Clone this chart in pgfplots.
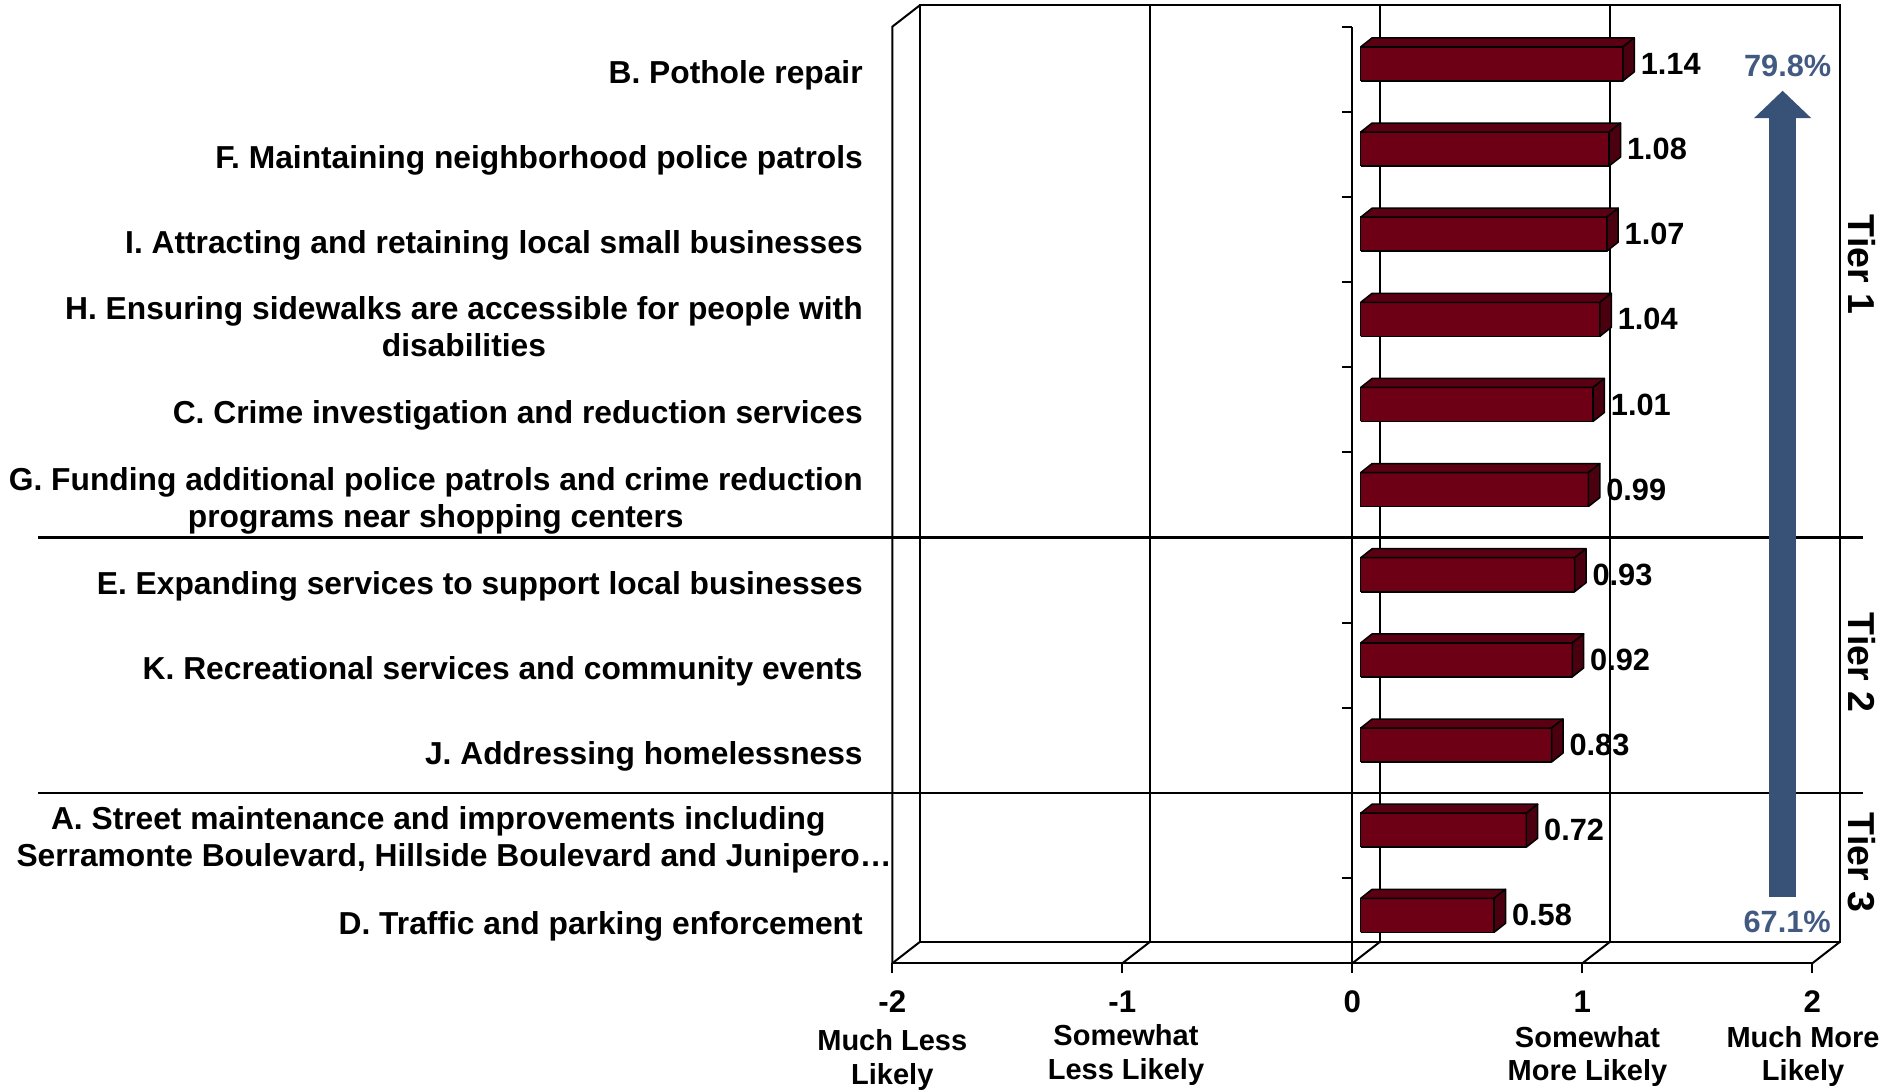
\documentclass[border=0pt]{standalone}
\usepackage{pgfplots}
\pgfplotsset{compat=1.18}
\usepackage{fontspec}
\setmainfont{Liberation Sans}
\usetikzlibrary{arrows.meta}
\definecolor{barfront}{RGB}{110,0,22}
\definecolor{bartop}{RGB}{90,0,18}
\definecolor{barside}{RGB}{74,0,14}
\definecolor{arrowblue}{RGB}{56,81,118}
\definecolor{pctblue}{RGB}{66,90,130}
\tikzset{
  catlabel/.style={font=\fontsize{12.7}{14.7}\selectfont\bfseries, align=center, anchor=east, inner sep=0pt},
  vallabel/.style={font=\fontsize{12.3}{14}\selectfont\bfseries, anchor=west, inner sep=0pt},
  desclabel/.style={font=\fontsize{11.6}{13}\selectfont\bfseries, anchor=base, inner sep=0pt},
  frame/.style={line width=0.8pt, black},
}
\begin{document}
\begin{tikzpicture}
\begin{axis}[
  scale only axis, width=368pt, height=374.64pt,
  xmin=-2, xmax=2, ymin=0.5, ymax=11.5,
  clip=false,
  axis x line=bottom, axis y line=none,
  x axis line style={-, line width=0.8pt},
  xtick={-2,-1,0,1,2},
  xticklabels={-2,-1,0,1,2},
  tick align=outside, major tick length=4pt,
  x tick style={line width=0.8pt, black},
  ytick=\empty,
  xticklabel style={font=\fontsize{12.5}{14}\selectfont\bfseries, anchor=base, yshift=-15.6pt, inner sep=0pt},
]
\coordinate (bl) at (axis cs:-2,0.5);
\coordinate (tr) at (axis cs:2,11.5);
% back plane
\draw[frame] ([shift={(11.08pt,8.6pt)}]axis cs:-2,0.5) rectangle ([shift={(11.08pt,8.6pt)}]axis cs:2,11.5);
\pgfplotsinvokeforeach{-1,0,1}{
  \draw[line width=0.7pt] ([shift={(11.08pt,8.6pt)}]axis cs:#1,0.5) -- ([shift={(11.08pt,8.6pt)}]axis cs:#1,11.5);
}
% floor slants
\pgfplotsinvokeforeach{-2,-1,0,1,2}{
  \draw[frame] (axis cs:#1,0.5) -- ([shift={(11.08pt,8.6pt)}]axis cs:#1,0.5);
}
% left wall
\draw[frame] (axis cs:-2,0.5) -- (axis cs:-2,11.5) -- ([shift={(11.08pt,8.6pt)}]axis cs:-2,11.5);
% category axis
\draw[frame] (axis cs:0,0.5) -- (axis cs:0,11.5);
\pgfplotsinvokeforeach{0.5,1.5,2.5,3.5,4.5,5.5,6.5,7.5,8.5,9.5,10.5,11.5}{
  \draw[frame] ([xshift=-4pt]axis cs:0,#1) -- (axis cs:0,#1);
}
% bars (3D look)
\foreach \c/\v in {11/1.14,10/1.08,9/1.07,8/1.04,7/1.01,6/0.99,5/0.93,4/0.92,3/0.83,2/0.72,1/0.58}{
  \pgfmathsetmacro\xr{\v+0.0365}
  \pgfmathsetmacro\xrb{\v+0.0861}
  \pgfmathsetmacro\yb{\c-0.1363}
  \pgfmathsetmacro\yt{\c+0.2631}
  \pgfmathsetmacro\ytb{\c+0.3688}
  \pgfmathsetmacro\ybb{\c-0.0306}
  \pgfmathsetmacro\ym{\c+0.0634}
  \edef\temp{
    \noexpand\addplot[fill=barfront, draw=black, line width=0.6pt, line join=round] coordinates {(0.0365,\yb) (\xr,\yb) (\xr,\yt) (0.0365,\yt) (0.0365,\yb)};
    \noexpand\addplot[fill=bartop, draw=black, line width=0.6pt, line join=round] coordinates {(0.0365,\yt) (\xr,\yt) (\xrb,\ytb) (0.0861,\ytb) (0.0365,\yt)};
    \noexpand\addplot[fill=barside, draw=black, line width=0.6pt, line join=round] coordinates {(\xr,\yb) (\xr,\yt) (\xrb,\ytb) (\xrb,\ybb) (\xr,\yb)};
    \noexpand\node[vallabel] at (axis cs:\xrb,\ym) [xshift=2.4pt] {\v};
  }
  \temp
}
% category labels
\node[catlabel] at (axis cs:-2,11) [xshift=-11.64pt, yshift=-2.4pt] {B. Pothole repair};
\node[catlabel] at (axis cs:-2,10) [xshift=-11.64pt, yshift=-2.4pt] {F. Maintaining neighborhood police patrols};
\node[catlabel] at (axis cs:-2,9) [xshift=-11.64pt, yshift=-2.4pt] {I. Attracting and retaining local small businesses};
\node[catlabel] at (axis cs:-2,8) [xshift=-11.64pt, yshift=-0.8pt] {H. Ensuring sidewalks are accessible for people with\\disabilities};
\node[catlabel] at (axis cs:-2,7) [xshift=-11.64pt, yshift=-2.4pt] {C. Crime investigation and reduction services};
\node[catlabel] at (axis cs:-2,6) [xshift=-11.64pt, yshift=-2.4pt] {G. Funding additional police patrols and crime reduction\\programs near shopping centers};
\node[catlabel] at (axis cs:-2,5) [xshift=-11.64pt, yshift=-2.4pt] {E. Expanding services to support local businesses};
\node[catlabel] at (axis cs:-2,4) [xshift=-11.64pt, yshift=-2.4pt] {K. Recreational services and community events};
\node[catlabel] at (axis cs:-2,3) [xshift=-11.64pt, yshift=-2.4pt] {J. Addressing homelessness};
\node[catlabel, anchor=base west] at (axis cs:-2,2) [xshift=-336.7pt, yshift=2.3pt] {A. Street maintenance and improvements including};
\node[catlabel, anchor=base west] at (axis cs:-2,2) [xshift=-350.5pt, yshift=-12.4pt] {Serramonte Boulevard, Hillside Boulevard and Junipero…};
\node[catlabel] at (axis cs:-2,1) [xshift=-11.64pt, yshift=-2.4pt] {D. Traffic and parking enforcement};
% x descriptions
\node[desclabel] at (axis cs:-2,0.5) [yshift=-35pt] {Much Less};
\node[desclabel] at (axis cs:-2,0.5) [yshift=-48.3pt] {Likely};
\node[desclabel] at (axis cs:-0.984,0.5) [yshift=-33pt] {Somewhat};
\node[desclabel] at (axis cs:-0.984,0.5) [yshift=-46.3pt] {Less Likely};
\node[desclabel] at (axis cs:1.0226,0.5) [yshift=-33.5pt] {Somewhat};
\node[desclabel] at (axis cs:1.0226,0.5) [yshift=-46.8pt] {More Likely};
\node[desclabel] at (axis cs:1.96,0.5) [yshift=-33.5pt] {Much More};
\node[desclabel] at (axis cs:1.96,0.5) [yshift=-46.8pt] {Likely};
% tier lines
\draw[line width=0.9pt] (axis cs:-5.714,5.5) -- (axis cs:2.22,5.5);
\draw[line width=0.9pt] (axis cs:-5.714,2.5) -- (axis cs:2.22,2.5);
% tier labels
\node[rotate=-90, font=\fontsize{15}{17}\selectfont\bfseries, inner sep=0pt] at (axis cs:2.216,8.707) {Tier 1};
\node[rotate=-90, font=\fontsize{15}{17}\selectfont\bfseries, inner sep=0pt] at (axis cs:2.216,4.033) {Tier 2};
\node[rotate=-90, font=\fontsize{15}{17}\selectfont\bfseries, inner sep=0pt] at (axis cs:2.216,1.684) {Tier 3};
% arrow
\draw[arrowblue, line width=10.7pt, -{Triangle[width=22.3pt,length=11pt]}] (axis cs:1.871,1.282) -- (axis cs:1.871,10.748);
\node[anchor=base, inner sep=0pt, text=pctblue, font=\fontsize{12.3}{14}\selectfont\bfseries] at (axis cs:1.893,10.912) {79.8\%};
\node[anchor=base, inner sep=0pt, text=pctblue, font=\fontsize{12.3}{14}\selectfont\bfseries] at (axis cs:1.891,0.856) {67.1\%};
\end{axis}
\pgfresetboundingbox
\path[use as bounding box] ([shift={(-356.92pt,-51.08pt)}]bl) rectangle ([shift={(29.08pt,10.68pt)}]tr);
\end{tikzpicture}
\end{document}
